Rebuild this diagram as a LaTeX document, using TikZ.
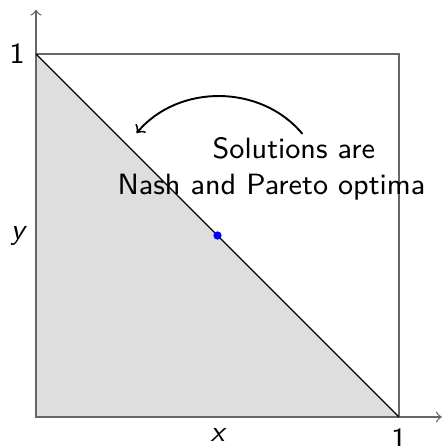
\documentclass[tikz,border=0pt]{standalone}
\begin{document}
\begin{tikzpicture}[x=4cm,y=4cm,font=\sffamily\fontsize{9.2}{11}\selectfont,
  axis/.style={draw=black!60,->},
  frame/.style={draw=black!60},
  region/.style={fill=black!13},
  txt/.style={anchor=base west,inner sep=0pt},
  dot/.style={circle,fill=blue,inner sep=0pt,minimum size=2.6pt}]
\useasboundingbox (-0.0992,-0.0799) rectangle (1.124,1.1488);
\coordinate (O) at (0,0);
\coordinate (X1) at (1,0);
\coordinate (Y1) at (0,1);
\coordinate (XY) at (1,1);
\coordinate (XE) at (1.118,0);
\coordinate (YE) at (0,1.122);
\fill[region] (O) -- (Y1) -- (X1) -- cycle;
\draw[frame] (O) rectangle (XY);
\draw[black!75] (O) -- (Y1);
\draw[black!75] (O) -- (X1);
\draw[axis] (O) -- (XE);
\draw[axis] (O) -- (YE);
\draw[black] (Y1) -- (X1);
\node[below] (lx1) at (X1) {1};
\node[left] (ly1) at (Y1) {1};
\node[below] (lx) at (0.5,0) {\itshape x};
\node[left] (ly) at (0,0.5) {\itshape y};
\node[dot] (p) at (0.5,0.5) {};
\node[txt] (s1) at (0.485,0.711) {Solutions are};
\node[txt] (s2) at (0.223,0.612) {Nash and Pareto optima};
\coordinate (as) at (0.734,0.780);
\coordinate (ae) at (0.277,0.782);
\draw[->,black,semithick] (as) to[bend right=50] (ae);
\end{tikzpicture}
\end{document}
